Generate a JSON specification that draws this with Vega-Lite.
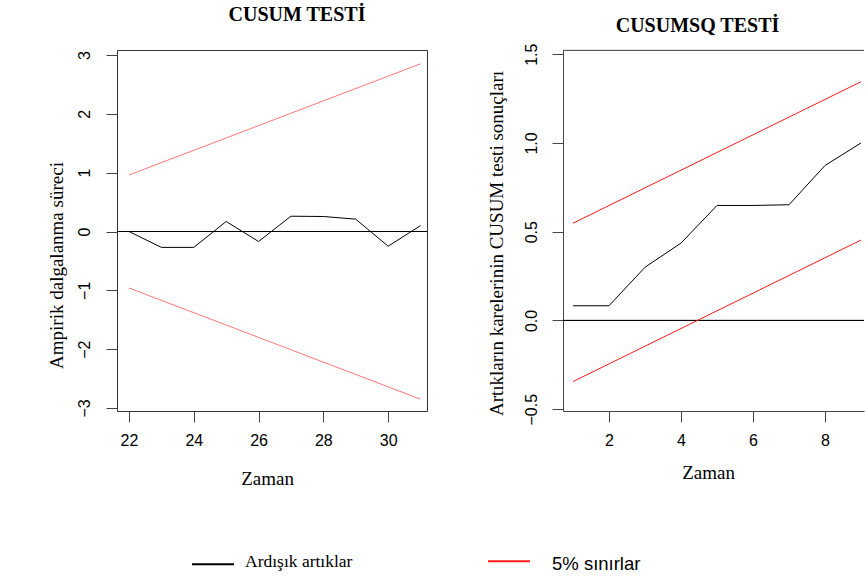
{
  "$schema": "https://vega.github.io/schema/vega-lite/v6.json",
  "padding": {"left": 46, "top": 4, "right": 0, "bottom": 0},
  "bounds": "flush",
  "spacing": 136,
  "background": "white",
  "config": {
    "view": {"stroke": "#333", "strokeWidth": 1},
    "axis": {
      "grid": false,
      "labelFont": "Liberation Sans",
      "labelFontSize": 16,
      "labelColor": "black",
      "tickColor": "#444",
      "domainColor": "#444",
      "tickSize": 11,
      "labelPadding": 10,
      "titleFont": "Liberation Serif",
      "titleFontSize": 19,
      "titleFontWeight": "normal",
      "titleColor": "black"
    },
    "title": {"font": "Liberation Serif", "fontSize": 20, "fontWeight": "bold", "color": "black"}
  },
  "hconcat": [
    {
      "width": 310,
      "height": 361,
      "title": {"text": "CUSUM TESTİ", "dx": 25, "offset": 25},
      "data": {"values": [
        {"zaman": 22, "deger": 0.0, "series": "Ardışık artıklar", "hat": "cusum"},
        {"zaman": 23, "deger": -0.27, "series": "Ardışık artıklar", "hat": "cusum"},
        {"zaman": 24, "deger": -0.27, "series": "Ardışık artıklar", "hat": "cusum"},
        {"zaman": 25, "deger": 0.17, "series": "Ardışık artıklar", "hat": "cusum"},
        {"zaman": 26, "deger": -0.17, "series": "Ardışık artıklar", "hat": "cusum"},
        {"zaman": 27, "deger": 0.26, "series": "Ardışık artıklar", "hat": "cusum"},
        {"zaman": 28, "deger": 0.255, "series": "Ardışık artıklar", "hat": "cusum"},
        {"zaman": 29, "deger": 0.21, "series": "Ardışık artıklar", "hat": "cusum"},
        {"zaman": 30, "deger": -0.25, "series": "Ardışık artıklar", "hat": "cusum"},
        {"zaman": 31, "deger": 0.1, "series": "Ardışık artıklar", "hat": "cusum"},
        {"zaman": 22, "deger": 0.96, "series": "5% sınırlar", "hat": "ust"},
        {"zaman": 31, "deger": 2.85, "series": "5% sınırlar", "hat": "ust"},
        {"zaman": 22, "deger": -0.96, "series": "5% sınırlar", "hat": "alt"},
        {"zaman": 31, "deger": -2.85, "series": "5% sınırlar", "hat": "alt"}
      ]},
      "layer": [
        {
          "mark": {"type": "rule", "color": "black", "strokeWidth": 1},
          "encoding": {"y": {"datum": 0, "type": "quantitative"}}
        },
        {
          "transform": [{"filter": "datum.hat === 'cusum'"}],
          "mark": {"type": "line", "strokeWidth": 1},
          "encoding": {
            "x": {"field": "zaman", "type": "quantitative",
              "scale": {"domain": [21.63, 31.2], "nice": false, "zero": false},
              "axis": {"values": [22, 24, 26, 28, 30], "format": "d", "domain": false, "title": "Zaman",
                "titleX": 150, "titleY": 67, "titleBaseline": "middle", "titleAlign": "center"}},
            "y": {"field": "deger", "type": "quantitative",
              "scale": {"domain": [-3.051, 3.085], "nice": false, "zero": false},
              "axis": {"values": [-3, -2, -1, 0, 1, 2, 3], "format": "d", "domain": false, "labelAngle": 270,
                "labelAlign": "center", "labelBaseline": "bottom", "labelPadding": 14,
                "title": "Ampirik dalgalanma süreci",
                "titleX": -61, "titleY": 215, "titleBaseline": "middle", "titleAlign": "center", "titleAngle": 270}},
            "detail": {"field": "hat"},
            "color": {"field": "series", "type": "nominal",
              "scale": {"domain": ["Ardışık artıklar", "5% sınırlar"], "range": ["black", "#ff1a1a"]},
              "legend": {
                "orient": "none", "legendX": 74, "legendY": 489,
                "direction": "horizontal", "title": null,
                "symbolType": "stroke", "symbolSize": 1764, "symbolStrokeWidth": 2,
                "labelFont": "Liberation Serif", "labelFontSize": 17.5, "labelColor": "black",
                "labelOffset": 10, "columnPadding": 131, "labelLimit": 400,
                "encode": {"labels": {"update": {
                  "font": {"signal": "datum.value === '5% sınırlar' ? 'Liberation Sans' : 'Liberation Serif'"},
                  "fontSize": {"signal": "datum.value === '5% sınırlar' ? 18.5 : 17.5"},
                  "dx": {"signal": "datum.value === '5% sınırlar' ? 11 : 0"},
                  "dy": {"signal": "datum.value === '5% sınırlar' ? 3 : -2"}
                }}}
              }}
          }
        },
        {
          "transform": [{"filter": "datum.hat !== 'cusum'"}],
          "mark": {"type": "line", "strokeWidth": 1, "opacity": 0.6},
          "encoding": {
            "x": {"field": "zaman", "type": "quantitative"},
            "y": {"field": "deger", "type": "quantitative"},
            "detail": {"field": "hat"},
            "color": {"field": "series", "type": "nominal"}
          }
        }
      ]
    },
    {
      "width": 301,
      "height": 361,
      "view": {"stroke": null},
      "title": {"text": "CUSUMSQ TESTİ", "dx": -16, "offset": 7},
      "data": {"values": [
        {"zaman": 1, "deger": 0.083, "series": "Ardışık artıklar", "hat": "cusumsq"},
        {"zaman": 2, "deger": 0.083, "series": "Ardışık artıklar", "hat": "cusumsq"},
        {"zaman": 3, "deger": 0.3, "series": "Ardışık artıklar", "hat": "cusumsq"},
        {"zaman": 4, "deger": 0.436, "series": "Ardışık artıklar", "hat": "cusumsq"},
        {"zaman": 5, "deger": 0.648, "series": "Ardışık artıklar", "hat": "cusumsq"},
        {"zaman": 6, "deger": 0.648, "series": "Ardışık artıklar", "hat": "cusumsq"},
        {"zaman": 7, "deger": 0.652, "series": "Ardışık artıklar", "hat": "cusumsq"},
        {"zaman": 8, "deger": 0.873, "series": "Ardışık artıklar", "hat": "cusumsq"},
        {"zaman": 9, "deger": 1.0, "series": "Ardışık artıklar", "hat": "cusumsq"},
        {"zaman": 1, "deger": 0.548, "series": "5% sınırlar", "hat": "ust"},
        {"zaman": 9, "deger": 1.345, "series": "5% sınırlar", "hat": "ust"},
        {"zaman": 1, "deger": -0.344, "series": "5% sınırlar", "hat": "alt"},
        {"zaman": 9, "deger": 0.453, "series": "5% sınırlar", "hat": "alt"}
      ]},
      "layer": [
        {
          "mark": {"type": "rule", "color": "black", "strokeWidth": 1},
          "encoding": {"y": {"datum": 0, "type": "quantitative"}}
        },
        {
          "mark": {"type": "rule", "color": "#555", "strokeWidth": 1},
          "encoding": {"y": {"datum": 1.5209, "type": "quantitative"}}
        },
        {
          "mark": {"type": "line", "strokeWidth": 1},
          "encoding": {
            "x": {"field": "zaman", "type": "quantitative",
              "scale": {"domain": [0.722, 9.083], "nice": false, "zero": false},
              "axis": {"values": [2, 4, 6, 8], "format": "d", "domain": true, "title": "Zaman",
                "titleX": 145, "titleY": 61, "titleBaseline": "middle", "titleAlign": "center"}},
            "y": {"field": "deger", "type": "quantitative",
              "scale": {"domain": [-0.5098, 1.5237], "nice": false, "zero": false},
              "axis": {"values": [-0.5, 0, 0.5, 1, 1.5], "format": ".1f", "domain": true, "labelAngle": 270,
                "labelAlign": "center", "labelBaseline": "bottom", "labelPadding": 13,
                "title": "Artıkların karelerinin CUSUM testi sonuçları",
                "titleX": -67, "titleY": 193, "titleBaseline": "middle", "titleAlign": "center", "titleAngle": 270}},
            "detail": {"field": "hat"},
            "color": {"field": "series", "type": "nominal"}
          }
        }
      ]
    }
  ]
}
